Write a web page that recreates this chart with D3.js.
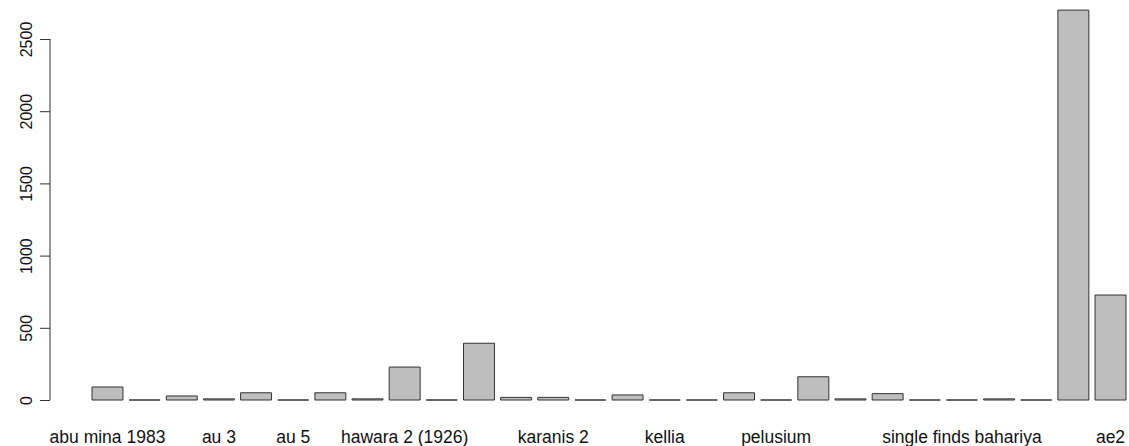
<!DOCTYPE html>
<html lang="en">
<head>
    <meta charset="UTF-8">
    <title>Bar plot</title>
    <script src="https://d3js.org/d3.v7.min.js"></script>
    <style>
        body { margin: 0; background: #fff; }
        svg { display: block; font-family: "Liberation Sans", Arial, sans-serif; }
    </style>
    <script>
        // sites (only the labels R had room to print are known)
        const categories = [
            "abu mina 1983", "", "", "au 3", "", "au 5", "", "",
            "hawara 2 (1926)", "", "", "", "karanis 2", "", "", "kellia",
            "", "", "pelusium", "", "", "", "", "single finds bahariya",
            "", "", "", "ae2"
        ];
        const values = [
            90, 0, 28, 8, 50, 0, 50, 8,
            228, 0, 393, 18, 18, 0, 35, 0,
            0, 50, 0, 161, 8, 44, 0, 0,
            8, 0, 2700, 727
        ];
        const yTicks = [0, 500, 1000, 1500, 2000, 2500];

        document.addEventListener("DOMContentLoaded", function() {
            barPlot();
        });

        function barPlot() {
            const width = 1129;
            const height = 446;

            const svg = d3.select("svg")
                .attr("width", width)
                .attr("height", height);

            const keys = d3.range(values.length);

            const xScale = d3.scaleBand()
                .domain(keys)
                .range([92, 1126])
                .paddingInner(1 / 6)
                .paddingOuter(0);

            const yScale = d3.scaleLinear()
                .domain([0, 2500])
                .range([400, 39]);

            // y axis, R style: rotated labels
            const yAxis = svg.append("g")
                .attr("transform", "translate(50,0)")
                .call(d3.axisLeft(yScale).tickValues(yTicks).tickFormat(d3.format("d"))
                    .tickSize(10).tickPadding(0));
            yAxis.selectAll("path, line").attr("stroke", "#333");
            yAxis.select(".domain").attr("d", "M-0,39H0V400H-0");
            yAxis.selectAll("text")
                .attr("font-size", 16)
                .attr("fill", "#111")
                .attr("x", null)
                .attr("text-anchor", "middle")
                .attr("transform", "translate(-24,0) rotate(-90)")
                .attr("y", 0)
                .attr("dy", "0.35em");
            yAxis.attr("font-family", null).attr("font-size", null);

            // bars drawn as closed paths so zero values still show a base line
            svg.append("g")
                .selectAll("path")
                .data(keys)
                .join("path")
                .attr("d", d => {
                    const x0 = xScale(d), x1 = x0 + xScale.bandwidth();
                    const y0 = yScale(0), y1 = yScale(values[d]);
                    return `M${x0},${y0}H${x1}V${y1}H${x0}Z`;
                })
                .attr("fill", "#bebebe")
                .attr("stroke", "#333")
                .attr("stroke-width", 1);

            // category labels
            svg.append("g")
                .selectAll("text")
                .data(keys.filter(d => categories[d] !== ""))
                .join("text")
                .attr("x", d => xScale(d) + xScale.bandwidth() / 2)
                .attr("y", 443)
                .attr("text-anchor", "middle")
                .attr("font-size", 17.5)
                .attr("fill", "#111")
                .text(d => categories[d]);
        }
    </script>
</head>
<body>
    <svg id="chart"></svg>
</body>
</html>
